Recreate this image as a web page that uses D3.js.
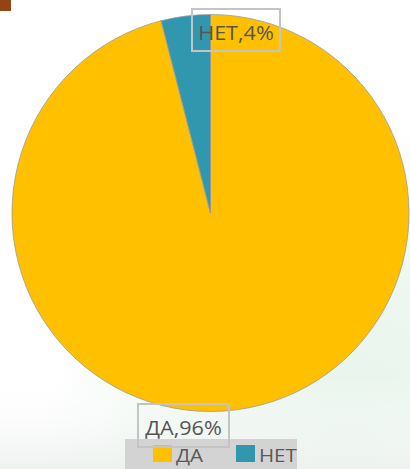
<!DOCTYPE html>
<html><head><meta charset="utf-8">
<script src="https://cdn.jsdelivr.net/npm/d3@7"></script>
<style>html,body{margin:0;padding:0;background:#fff;overflow:hidden}</style>
</head><body>
<script>
const categories = ["ДА", "НЕТ"];
const values = [96, 4];
const labels = ["ДА,96%", "НЕТ,4%"];
const colors = ["#FFC000", "#3097AE"];

const W = 410, H = 469;
const svg = d3.select("body").append("svg").attr("width", W).attr("height", H);
const defs = svg.append("defs");
const rg = defs.append("radialGradient").attr("id","bg").attr("cx","0.85").attr("cy","1.0").attr("r","0.75");
rg.append("stop").attr("offset","0").attr("stop-color","#e4f3ea");
rg.append("stop").attr("offset","0.55").attr("stop-color","#edf7f0");
rg.append("stop").attr("offset","1").attr("stop-color","#ffffff");
const lg = defs.append("linearGradient").attr("id","bg2").attr("x1","0").attr("y1","0").attr("x2","0").attr("y2","1");
lg.append("stop").attr("offset","0.8").attr("stop-color","#ffffff").attr("stop-opacity",0);
lg.append("stop").attr("offset","1").attr("stop-color","#eef2ef").attr("stop-opacity",1);
svg.append("rect").attr("width",W).attr("height",H).attr("fill","url(#bg)");
svg.append("rect").attr("width",W).attr("height",H).attr("fill","url(#bg2)");

svg.append("rect").attr("x",0).attr("y",0).attr("width",11).attr("height",11).attr("fill","#944315");

const cx = 210.5, cy = 213, R = 198.5;
const pie = d3.pie().sort(null).value(d => d)(values);
const arc = d3.arc().innerRadius(0).outerRadius(R);
const g = svg.append("g").attr("transform", `translate(${cx},${cy})`);
g.selectAll("path").data(pie).join("path")
  .attr("d", arc)
  .attr("fill", (d,i) => colors[i])
  .attr("stroke", "#9a9a9a").attr("stroke-width", 0.8);

// legend
const legend = svg.append("g");
legend.append("rect").attr("x",125).attr("y",439).attr("width",172).attr("height",32).attr("fill","#d3d3d3");
const lx = [153, 236];
categories.forEach((c,i) => {
  legend.append("rect").attr("x",lx[i]).attr("y",445).attr("width",19).attr("height",17).attr("fill",colors[i]);
  legend.append("text").attr("transform",`translate(${lx[i]+23},462) scale(1.08,1)`)
    .attr("font-family","Open Sans").attr("font-size",19).attr("fill","#595959").text(c);
});

// data labels
const lbl = [
  {x:138, y:404, w:91, h:43, tx:183.5, ty:435},
  {x:192, y:9, w:88, h:42, tx:236, ty:40}
];
labels.forEach((t,i) => {
  const b = lbl[i];
  svg.append("rect").attr("x",b.x).attr("y",b.y).attr("width",b.w).attr("height",b.h)
    .attr("fill","none").attr("stroke","#c4c4c4").attr("stroke-width",2);
  svg.append("text").attr("transform",`translate(${b.tx},${b.ty}) scale(1.08,1)`).attr("text-anchor","middle")
    .attr("font-family","Open Sans").attr("font-size",20).attr("fill","#555555").text(t);
});
</script>
</body></html>
